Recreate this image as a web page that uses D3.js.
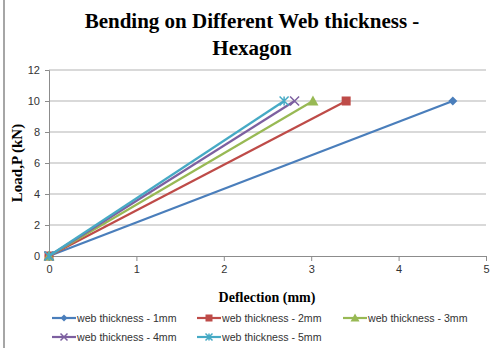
<!DOCTYPE html>
<html>
<head>
<meta charset="utf-8">
<script src="https://cdn.jsdelivr.net/npm/d3@7"></script>
<style>
  body { margin: 0; background: #fff; }
  svg { display: block; }
</style>
</head>
<body>
<svg id="chart" width="491" height="348"></svg>
<script>
const seriesNames = ["web thickness - 1mm", "web thickness - 2mm", "web thickness - 3mm", "web thickness - 4mm", "web thickness - 5mm"];
const deflection = [
    [0, 4.62],
    [0, 3.40],
    [0, 3.02],
    [0, 2.81],
    [0, 2.69]
];
const load = [
    [0, 10],
    [0, 10],
    [0, 10],
    [0, 10],
    [0, 10]
];
const xTicks = [0, 1, 2, 3, 4, 5];
const yTicks = [0, 2, 4, 6, 8, 10, 12];

const colors = ["#4a7ebb", "#be4b48", "#98b954", "#7d60a0", "#46aac5"];
const markers = ["diamond", "square", "triangle", "x", "star"];

const svg = d3.select("#chart");

// frame line on the left
svg.append("rect").attr("x", 3).attr("y", 0).attr("width", 2).attr("height", 348).attr("fill", "#a6a6a6");

const x = d3.scaleLinear().domain([0, 5]).range([49, 486]);
const y = d3.scaleLinear().domain([0, 12]).range([256, 70]);

// grid
svg.append("g").selectAll("line")
    .data(yTicks.filter(d => d > 0))
    .join("line")
    .attr("x1", x(0)).attr("x2", x(5))
    .attr("y1", d => y(d)).attr("y2", d => y(d))
    .attr("stroke", "#b3b3b3").attr("stroke-width", 1);

const xAxis = svg.append("g")
    .attr("transform", `translate(0,${y(0)})`)
    .call(d3.axisBottom(x).tickValues(xTicks).tickSize(5).tickPadding(4).tickFormat(d3.format("d")));
const yAxis = svg.append("g")
    .attr("transform", `translate(${x(0)},0)`)
    .call(d3.axisLeft(y).tickValues(yTicks).tickSize(4).tickPadding(5).tickFormat(d3.format("d")));

[xAxis, yAxis].forEach(g => {
    g.select(".domain").attr("stroke", "#8c8c8c");
    g.selectAll(".tick line").attr("stroke", "#8c8c8c");
    g.selectAll("text").attr("font-family", "Liberation Sans, Arial, sans-serif").attr("font-size", 11).attr("fill", "#333");
});

// title
svg.append("text").attr("x", 252).attr("y", 28).attr("text-anchor", "middle")
    .attr("font-family", "Liberation Serif, Times New Roman, serif").attr("font-weight", "bold").attr("font-size", 21)
    .text("Bending on Different Web thickness -");
svg.append("text").attr("x", 252).attr("y", 55).attr("text-anchor", "middle")
    .attr("font-family", "Liberation Serif, Times New Roman, serif").attr("font-weight", "bold").attr("font-size", 21)
    .text("Hexagon");

// axis titles
svg.append("text").attr("x", 267).attr("y", 302).attr("text-anchor", "middle")
    .attr("font-family", "Liberation Serif, Times New Roman, serif").attr("font-weight", "bold").attr("font-size", 14)
    .text("Deflection (mm)");
svg.append("text").attr("transform", `translate(22,${y(6)}) rotate(-90)`).attr("text-anchor", "middle")
    .attr("font-family", "Liberation Serif, Times New Roman, serif").attr("font-weight", "bold").attr("font-size", 15)
    .text("Load,P (kN)");

function drawMarker(g, type, color, size) {
    const s = size;
    if (type === "diamond") {
        g.append("path").attr("d", `M0,${-s / 2}L${s / 2},0L0,${s / 2}L${-s / 2},0Z`).attr("fill", color);
    } else if (type === "square") {
        g.append("rect").attr("x", -s / 2).attr("y", -s / 2).attr("width", s).attr("height", s).attr("fill", color);
    } else if (type === "triangle") {
        g.append("path").attr("d", `M0,${-s / 2 - 1}L${s / 2 + 1},${s / 2}L${-s / 2 - 1},${s / 2}Z`).attr("fill", color);
    } else if (type === "x") {
        g.append("path").attr("d", `M${-s / 2},${-s / 2}L${s / 2},${s / 2}M${-s / 2},${s / 2}L${s / 2},${-s / 2}`)
            .attr("stroke", color).attr("stroke-width", 1.5);
    } else {
        g.append("path").attr("d", `M${-s / 2},${-s / 2}L${s / 2},${s / 2}M${-s / 2},${s / 2}L${s / 2},${-s / 2}M0,${-s / 2}L0,${s / 2}`)
            .attr("stroke", color).attr("stroke-width", 1.5);
    }
}

const line = d3.line().x(d => x(d[0])).y(d => y(d[1]));

seriesNames.forEach((name, i) => {
    const pts = deflection[i].map((d, j) => [d, load[i][j]]);
    svg.append("path").datum(pts).attr("d", line)
        .attr("fill", "none").attr("stroke", colors[i]).attr("stroke-width", 2.2);
    pts.forEach(p => {
        const g = svg.append("g").attr("transform", `translate(${x(p[0])},${y(p[1])})`);
        drawMarker(g, markers[i], colors[i], 9);
    });
});

// legend
const legendX = [52, 197, 343];
const legendY = [318, 337];
seriesNames.forEach((name, i) => {
    const lx = legendX[i % 3], ly = legendY[Math.floor(i / 3)];
    const g = svg.append("g").attr("transform", `translate(${lx},${ly})`);
    g.append("line").attr("x1", 0).attr("x2", 24).attr("y1", 0).attr("y2", 0)
        .attr("stroke", colors[i]).attr("stroke-width", 2.2);
    const m = g.append("g").attr("transform", "translate(12,0)");
    drawMarker(m, markers[i], colors[i], 7);
    g.append("text").attr("x", 25).attr("y", 4)
        .attr("font-family", "Liberation Sans, Arial, sans-serif").attr("font-size", 10.6).attr("fill", "#333")
        .text(name);
});
</script>
</body>
</html>
